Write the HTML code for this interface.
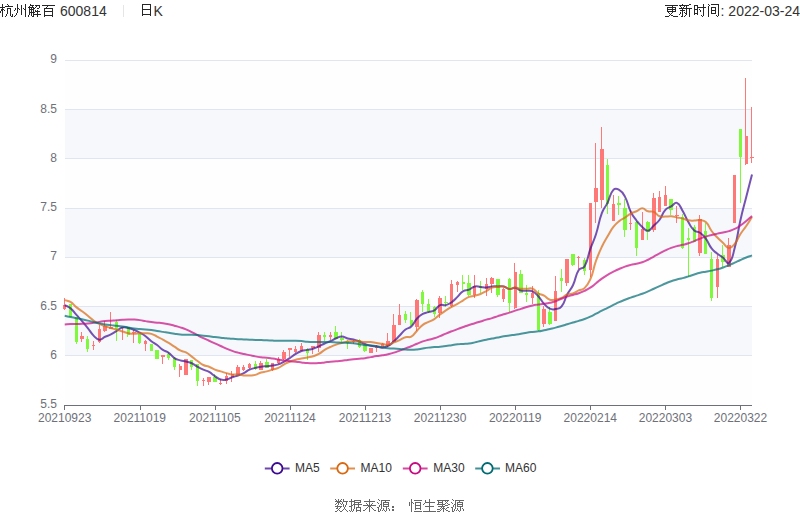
<!DOCTYPE html>
<html><head><meta charset="utf-8"><style>
html,body{margin:0;padding:0;background:#fff;}
body{width:800px;height:517px;overflow:hidden;position:relative;}
svg{position:absolute;left:0;top:0;font-family:"Liberation Sans",sans-serif;}
</style></head><body>
<svg width="800" height="517" viewBox="0 0 800 517">
<rect width="800" height="517" fill="#fff"/>
<rect x="65" y="356.00" width="687" height="49.00" fill="#fefefe"/>
<rect x="65" y="307.00" width="687" height="48.00" fill="#f6f8fc"/>
<rect x="65" y="258.00" width="687" height="48.00" fill="#fefefe"/>
<rect x="65" y="209.00" width="687" height="48.00" fill="#f6f8fc"/>
<rect x="65" y="159.00" width="687" height="49.00" fill="#fefefe"/>
<rect x="65" y="110.00" width="687" height="48.00" fill="#f6f8fc"/>
<rect x="65" y="61.00" width="687" height="48.00" fill="#fefefe"/>
<line x1="65" y1="355.5" x2="752" y2="355.5" stroke="#E0E6F1" stroke-width="1"/>
<line x1="65" y1="306.5" x2="752" y2="306.5" stroke="#E0E6F1" stroke-width="1"/>
<line x1="65" y1="257.5" x2="752" y2="257.5" stroke="#E0E6F1" stroke-width="1"/>
<line x1="65" y1="208.5" x2="752" y2="208.5" stroke="#E0E6F1" stroke-width="1"/>
<line x1="65" y1="158.5" x2="752" y2="158.5" stroke="#E0E6F1" stroke-width="1"/>
<line x1="65" y1="109.5" x2="752" y2="109.5" stroke="#E0E6F1" stroke-width="1"/>
<line x1="65" y1="60.5" x2="752" y2="60.5" stroke="#E0E6F1" stroke-width="1"/>
<line x1="64" y1="405.5" x2="752" y2="405.5" stroke="#6E7079" stroke-width="1"/>
<line x1="64.5" y1="405" x2="64.5" y2="410" stroke="#6E7079" stroke-width="1"/>
<line x1="140.5" y1="405" x2="140.5" y2="410" stroke="#6E7079" stroke-width="1"/>
<line x1="215.5" y1="405" x2="215.5" y2="410" stroke="#6E7079" stroke-width="1"/>
<line x1="290.5" y1="405" x2="290.5" y2="410" stroke="#6E7079" stroke-width="1"/>
<line x1="365.5" y1="405" x2="365.5" y2="410" stroke="#6E7079" stroke-width="1"/>
<line x1="440.5" y1="405" x2="440.5" y2="410" stroke="#6E7079" stroke-width="1"/>
<line x1="515.5" y1="405" x2="515.5" y2="410" stroke="#6E7079" stroke-width="1"/>
<line x1="590.5" y1="405" x2="590.5" y2="410" stroke="#6E7079" stroke-width="1"/>
<line x1="665.5" y1="405" x2="665.5" y2="410" stroke="#6E7079" stroke-width="1"/>
<line x1="740.5" y1="405" x2="740.5" y2="410" stroke="#6E7079" stroke-width="1"/>
<rect x="64.0" y="298" width="1" height="12" fill="#ff7878"/>
<rect x="63" y="305" width="3" height="4" fill="#ff7878"/>
<rect x="70.0" y="304" width="1" height="13" fill="#80f83c"/>
<rect x="69" y="304" width="3" height="13" fill="#80f83c"/>
<rect x="76.0" y="317" width="1" height="27" fill="#80f83c"/>
<rect x="75" y="317" width="3" height="25" fill="#80f83c"/>
<rect x="81.0" y="332" width="1" height="10" fill="#ff7878"/>
<rect x="80" y="336" width="4" height="3" fill="#ff7878"/>
<rect x="87.0" y="336" width="1" height="16" fill="#80f83c"/>
<rect x="86" y="339" width="3" height="10" fill="#80f83c"/>
<rect x="93.0" y="341" width="1" height="9" fill="#ff7878"/>
<rect x="92" y="345" width="3" height="1" fill="#ff7878"/>
<rect x="99.0" y="325" width="1" height="18" fill="#ff7878"/>
<rect x="98" y="329" width="3" height="13" fill="#ff7878"/>
<rect x="104.0" y="321" width="1" height="11" fill="#ff7878"/>
<rect x="103" y="326" width="4" height="5" fill="#ff7878"/>
<rect x="110.0" y="312" width="1" height="17" fill="#ff7878"/>
<rect x="109" y="327" width="4" height="2" fill="#ff7878"/>
<rect x="116.0" y="320" width="1" height="21" fill="#80f83c"/>
<rect x="115" y="322" width="3" height="7" fill="#80f83c"/>
<rect x="122.0" y="327" width="1" height="13" fill="#ff7878"/>
<rect x="121" y="327" width="3" height="1" fill="#ff7878"/>
<rect x="127.0" y="327" width="1" height="10" fill="#80f83c"/>
<rect x="127" y="327" width="3" height="8" fill="#80f83c"/>
<rect x="133.0" y="330" width="1" height="13" fill="#ff7878"/>
<rect x="132" y="332" width="4" height="1" fill="#ff7878"/>
<rect x="139.0" y="334" width="1" height="10" fill="#80f83c"/>
<rect x="138" y="334" width="3" height="9" fill="#80f83c"/>
<rect x="145.0" y="340" width="1" height="11" fill="#ff7878"/>
<rect x="144" y="341" width="3" height="3" fill="#ff7878"/>
<rect x="151.0" y="344" width="1" height="7" fill="#80f83c"/>
<rect x="150" y="344" width="3" height="7" fill="#80f83c"/>
<rect x="156.0" y="350" width="1" height="9" fill="#80f83c"/>
<rect x="155" y="350" width="4" height="9" fill="#80f83c"/>
<rect x="162.0" y="355" width="1" height="9" fill="#ff7878"/>
<rect x="161" y="355" width="4" height="2" fill="#ff7878"/>
<rect x="168.0" y="352" width="1" height="8" fill="#80f83c"/>
<rect x="167" y="354" width="3" height="4" fill="#80f83c"/>
<rect x="174.0" y="357" width="1" height="13" fill="#80f83c"/>
<rect x="173" y="358" width="3" height="9" fill="#80f83c"/>
<rect x="179.0" y="364" width="1" height="13" fill="#ff7878"/>
<rect x="179" y="366" width="3" height="4" fill="#ff7878"/>
<rect x="185.0" y="359" width="1" height="16" fill="#ff7878"/>
<rect x="184" y="359" width="4" height="16" fill="#ff7878"/>
<rect x="191.0" y="360" width="1" height="10" fill="#80f83c"/>
<rect x="190" y="360" width="3" height="7" fill="#80f83c"/>
<rect x="197.0" y="364" width="1" height="22" fill="#80f83c"/>
<rect x="196" y="364" width="3" height="17" fill="#80f83c"/>
<rect x="203.0" y="378" width="1" height="8" fill="#ff7878"/>
<rect x="202" y="380" width="3" height="1" fill="#ff7878"/>
<rect x="208.0" y="377" width="1" height="8" fill="#ff7878"/>
<rect x="207" y="377" width="4" height="5" fill="#ff7878"/>
<rect x="214.0" y="374" width="1" height="8" fill="#80f83c"/>
<rect x="213" y="377" width="4" height="5" fill="#80f83c"/>
<rect x="220.0" y="379" width="1" height="6" fill="#ff7878"/>
<rect x="219" y="383" width="3" height="1" fill="#ff7878"/>
<rect x="226.0" y="373" width="1" height="11" fill="#ff7878"/>
<rect x="225" y="376" width="3" height="5" fill="#ff7878"/>
<rect x="231.0" y="371" width="1" height="11" fill="#ff7878"/>
<rect x="231" y="374" width="3" height="3" fill="#ff7878"/>
<rect x="237.0" y="365" width="1" height="10" fill="#ff7878"/>
<rect x="236" y="367" width="4" height="8" fill="#ff7878"/>
<rect x="243.0" y="365" width="1" height="6" fill="#ff7878"/>
<rect x="242" y="367" width="3" height="3" fill="#ff7878"/>
<rect x="249.0" y="363" width="1" height="6" fill="#ff7878"/>
<rect x="248" y="364" width="3" height="4" fill="#ff7878"/>
<rect x="255.0" y="361" width="1" height="9" fill="#80f83c"/>
<rect x="254" y="364" width="3" height="5" fill="#80f83c"/>
<rect x="260.0" y="361" width="1" height="9" fill="#ff7878"/>
<rect x="259" y="363" width="4" height="7" fill="#ff7878"/>
<rect x="266.0" y="359" width="1" height="9" fill="#80f83c"/>
<rect x="265" y="362" width="4" height="6" fill="#80f83c"/>
<rect x="272.0" y="363" width="1" height="8" fill="#ff7878"/>
<rect x="271" y="363" width="3" height="7" fill="#ff7878"/>
<rect x="278.0" y="357" width="1" height="7" fill="#ff7878"/>
<rect x="277" y="359" width="3" height="4" fill="#ff7878"/>
<rect x="283.0" y="350" width="1" height="10" fill="#ff7878"/>
<rect x="282" y="352" width="4" height="7" fill="#ff7878"/>
<rect x="289.0" y="348" width="1" height="9" fill="#ff7878"/>
<rect x="288" y="348" width="4" height="2" fill="#ff7878"/>
<rect x="295.0" y="346" width="1" height="7" fill="#ff7878"/>
<rect x="294" y="349" width="3" height="3" fill="#ff7878"/>
<rect x="301.0" y="343" width="1" height="8" fill="#ff7878"/>
<rect x="300" y="346" width="3" height="5" fill="#ff7878"/>
<rect x="307.0" y="348" width="1" height="12" fill="#80f83c"/>
<rect x="306" y="349" width="3" height="4" fill="#80f83c"/>
<rect x="312.0" y="346" width="1" height="8" fill="#ff7878"/>
<rect x="311" y="346" width="4" height="2" fill="#ff7878"/>
<rect x="318.0" y="332" width="1" height="20" fill="#ff7878"/>
<rect x="317" y="335" width="4" height="13" fill="#ff7878"/>
<rect x="324.0" y="332" width="1" height="9" fill="#80f83c"/>
<rect x="323" y="335" width="3" height="2" fill="#80f83c"/>
<rect x="330.0" y="332" width="1" height="8" fill="#ff7878"/>
<rect x="329" y="335" width="3" height="2" fill="#ff7878"/>
<rect x="335.0" y="326" width="1" height="13" fill="#80f83c"/>
<rect x="334" y="332" width="4" height="7" fill="#80f83c"/>
<rect x="341.0" y="332" width="1" height="10" fill="#80f83c"/>
<rect x="340" y="338" width="4" height="2" fill="#80f83c"/>
<rect x="347.0" y="340" width="1" height="9" fill="#80f83c"/>
<rect x="346" y="341" width="3" height="2" fill="#80f83c"/>
<rect x="353.0" y="340" width="1" height="4" fill="#ff7878"/>
<rect x="352" y="341" width="3" height="1" fill="#ff7878"/>
<rect x="359.0" y="339" width="1" height="9" fill="#80f83c"/>
<rect x="358" y="340" width="3" height="7" fill="#80f83c"/>
<rect x="364.0" y="345" width="1" height="7" fill="#80f83c"/>
<rect x="363" y="345" width="4" height="6" fill="#80f83c"/>
<rect x="370.0" y="348" width="1" height="5" fill="#ff7878"/>
<rect x="369" y="348" width="4" height="5" fill="#ff7878"/>
<rect x="376.0" y="345" width="1" height="7" fill="#ff7878"/>
<rect x="375" y="347" width="3" height="1" fill="#ff7878"/>
<rect x="382.0" y="343" width="1" height="4" fill="#ff7878"/>
<rect x="381" y="344" width="3" height="3" fill="#ff7878"/>
<rect x="387.0" y="333" width="1" height="14" fill="#ff7878"/>
<rect x="386" y="341" width="4" height="5" fill="#ff7878"/>
<rect x="393.0" y="314" width="1" height="28" fill="#ff7878"/>
<rect x="392" y="325" width="4" height="17" fill="#ff7878"/>
<rect x="399.0" y="304" width="1" height="21" fill="#ff7878"/>
<rect x="398" y="315" width="3" height="10" fill="#ff7878"/>
<rect x="405.0" y="311" width="1" height="12" fill="#80f83c"/>
<rect x="404" y="314" width="3" height="6" fill="#80f83c"/>
<rect x="410.0" y="312" width="1" height="14" fill="#80f83c"/>
<rect x="410" y="320" width="3" height="5" fill="#80f83c"/>
<rect x="416.0" y="299" width="1" height="32" fill="#ff7878"/>
<rect x="415" y="300" width="4" height="27" fill="#ff7878"/>
<rect x="422.0" y="290" width="1" height="22" fill="#80f83c"/>
<rect x="421" y="292" width="3" height="12" fill="#80f83c"/>
<rect x="428.0" y="299" width="1" height="14" fill="#80f83c"/>
<rect x="427" y="304" width="3" height="8" fill="#80f83c"/>
<rect x="434.0" y="306" width="1" height="11" fill="#80f83c"/>
<rect x="433" y="307" width="3" height="7" fill="#80f83c"/>
<rect x="439.0" y="296" width="1" height="22" fill="#ff7878"/>
<rect x="438" y="298" width="4" height="15" fill="#ff7878"/>
<rect x="445.0" y="296" width="1" height="11" fill="#80f83c"/>
<rect x="444" y="302" width="4" height="1" fill="#80f83c"/>
<rect x="451.0" y="280" width="1" height="27" fill="#ff7878"/>
<rect x="450" y="284" width="3" height="22" fill="#ff7878"/>
<rect x="457.0" y="281" width="1" height="11" fill="#ff7878"/>
<rect x="456" y="282" width="3" height="3" fill="#ff7878"/>
<rect x="462.0" y="275" width="1" height="15" fill="#80f83c"/>
<rect x="462" y="282" width="3" height="2" fill="#80f83c"/>
<rect x="468.0" y="275" width="1" height="21" fill="#80f83c"/>
<rect x="467" y="283" width="4" height="12" fill="#80f83c"/>
<rect x="474.0" y="275" width="1" height="23" fill="#ff7878"/>
<rect x="473" y="286" width="3" height="9" fill="#ff7878"/>
<rect x="480.0" y="281" width="1" height="12" fill="#80f83c"/>
<rect x="479" y="286" width="3" height="2" fill="#80f83c"/>
<rect x="486.0" y="278" width="1" height="18" fill="#ff7878"/>
<rect x="485" y="284" width="3" height="5" fill="#ff7878"/>
<rect x="491.0" y="277" width="1" height="16" fill="#ff7878"/>
<rect x="490" y="278" width="4" height="6" fill="#ff7878"/>
<rect x="497.0" y="279" width="1" height="18" fill="#80f83c"/>
<rect x="496" y="279" width="4" height="16" fill="#80f83c"/>
<rect x="503.0" y="288" width="1" height="14" fill="#ff7878"/>
<rect x="502" y="289" width="3" height="10" fill="#ff7878"/>
<rect x="509.0" y="278" width="1" height="34" fill="#80f83c"/>
<rect x="508" y="279" width="3" height="24" fill="#80f83c"/>
<rect x="514.0" y="263" width="1" height="46" fill="#ff7878"/>
<rect x="514" y="272" width="3" height="36" fill="#ff7878"/>
<rect x="520.0" y="270" width="1" height="23" fill="#80f83c"/>
<rect x="519" y="274" width="4" height="19" fill="#80f83c"/>
<rect x="526.0" y="285" width="1" height="17" fill="#80f83c"/>
<rect x="525" y="293" width="3" height="2" fill="#80f83c"/>
<rect x="532.0" y="286" width="1" height="18" fill="#ff7878"/>
<rect x="531" y="293" width="3" height="5" fill="#ff7878"/>
<rect x="538.0" y="290" width="1" height="41" fill="#80f83c"/>
<rect x="537" y="293" width="3" height="37" fill="#80f83c"/>
<rect x="543.0" y="306" width="1" height="21" fill="#ff7878"/>
<rect x="542" y="309" width="4" height="15" fill="#ff7878"/>
<rect x="549.0" y="307" width="1" height="18" fill="#80f83c"/>
<rect x="548" y="312" width="4" height="12" fill="#80f83c"/>
<rect x="555.0" y="276" width="1" height="45" fill="#ff7878"/>
<rect x="554" y="291" width="3" height="30" fill="#ff7878"/>
<rect x="561.0" y="269" width="1" height="23" fill="#80f83c"/>
<rect x="560" y="278" width="3" height="3" fill="#80f83c"/>
<rect x="566.0" y="259" width="1" height="27" fill="#ff7878"/>
<rect x="565" y="259" width="4" height="24" fill="#ff7878"/>
<rect x="572.0" y="254" width="1" height="12" fill="#80f83c"/>
<rect x="571" y="254" width="4" height="11" fill="#80f83c"/>
<rect x="578.0" y="256" width="1" height="13" fill="#ff7878"/>
<rect x="577" y="257" width="3" height="1" fill="#ff7878"/>
<rect x="584.0" y="258" width="1" height="17" fill="#80f83c"/>
<rect x="583" y="260" width="3" height="11" fill="#80f83c"/>
<rect x="590.0" y="203" width="1" height="74" fill="#ff7878"/>
<rect x="589" y="203" width="3" height="67" fill="#ff7878"/>
<rect x="595.0" y="143" width="1" height="80" fill="#ff7878"/>
<rect x="594" y="188" width="4" height="14" fill="#ff7878"/>
<rect x="601.0" y="127" width="1" height="81" fill="#ff7878"/>
<rect x="600" y="149" width="4" height="51" fill="#ff7878"/>
<rect x="607.0" y="159" width="1" height="55" fill="#80f83c"/>
<rect x="606" y="165" width="3" height="39" fill="#80f83c"/>
<rect x="613.0" y="195" width="1" height="26" fill="#ff7878"/>
<rect x="612" y="204" width="3" height="17" fill="#ff7878"/>
<rect x="618.0" y="196" width="1" height="19" fill="#80f83c"/>
<rect x="617" y="203" width="4" height="2" fill="#80f83c"/>
<rect x="624.0" y="199" width="1" height="38" fill="#80f83c"/>
<rect x="623" y="208" width="4" height="22" fill="#80f83c"/>
<rect x="630.0" y="210" width="1" height="20" fill="#ff7878"/>
<rect x="629" y="223" width="3" height="1" fill="#ff7878"/>
<rect x="636.0" y="221" width="1" height="35" fill="#80f83c"/>
<rect x="635" y="222" width="3" height="26" fill="#80f83c"/>
<rect x="642.0" y="212" width="1" height="28" fill="#ff7878"/>
<rect x="641" y="229" width="3" height="11" fill="#ff7878"/>
<rect x="647.0" y="221" width="1" height="19" fill="#80f83c"/>
<rect x="646" y="222" width="4" height="10" fill="#80f83c"/>
<rect x="653.0" y="193" width="1" height="39" fill="#ff7878"/>
<rect x="652" y="198" width="4" height="32" fill="#ff7878"/>
<rect x="659.0" y="191" width="1" height="21" fill="#ff7878"/>
<rect x="658" y="197" width="3" height="15" fill="#ff7878"/>
<rect x="665.0" y="186" width="1" height="20" fill="#ff7878"/>
<rect x="664" y="195" width="3" height="11" fill="#ff7878"/>
<rect x="670.0" y="199" width="1" height="16" fill="#80f83c"/>
<rect x="669" y="199" width="4" height="11" fill="#80f83c"/>
<rect x="676.0" y="206" width="1" height="17" fill="#ff7878"/>
<rect x="675" y="215" width="4" height="1" fill="#ff7878"/>
<rect x="682.0" y="214" width="1" height="35" fill="#80f83c"/>
<rect x="681" y="217" width="3" height="31" fill="#80f83c"/>
<rect x="688.0" y="228" width="1" height="49" fill="#80f83c"/>
<rect x="687" y="238" width="3" height="2" fill="#80f83c"/>
<rect x="694.0" y="225" width="1" height="17" fill="#80f83c"/>
<rect x="693" y="227" width="3" height="15" fill="#80f83c"/>
<rect x="699.0" y="215" width="1" height="41" fill="#ff7878"/>
<rect x="698" y="219" width="4" height="34" fill="#ff7878"/>
<rect x="705.0" y="223" width="1" height="31" fill="#80f83c"/>
<rect x="704" y="231" width="3" height="23" fill="#80f83c"/>
<rect x="711.0" y="252" width="1" height="49" fill="#80f83c"/>
<rect x="710" y="259" width="3" height="39" fill="#80f83c"/>
<rect x="717.0" y="255" width="1" height="43" fill="#ff7878"/>
<rect x="716" y="259" width="3" height="28" fill="#ff7878"/>
<rect x="722.0" y="245" width="1" height="22" fill="#80f83c"/>
<rect x="721" y="255" width="4" height="7" fill="#80f83c"/>
<rect x="728.0" y="238" width="1" height="29" fill="#ff7878"/>
<rect x="727" y="245" width="4" height="22" fill="#ff7878"/>
<rect x="734.0" y="175" width="1" height="48" fill="#ff7878"/>
<rect x="733" y="175" width="3" height="48" fill="#ff7878"/>
<rect x="740.0" y="129" width="1" height="74" fill="#80f83c"/>
<rect x="739" y="129" width="3" height="28" fill="#80f83c"/>
<rect x="745.0" y="78" width="1" height="87" fill="#ff7878"/>
<rect x="745" y="136" width="3" height="28" fill="#ff7878"/>
<rect x="751.0" y="107" width="1" height="56" fill="#ff7878"/>
<rect x="750" y="157" width="4" height="1" fill="#ff7878"/>
<path d="M64.70,305.02 C67.59,306.65 67.96,306.18 70.48,308.27 C73.74,311.00 73.36,311.47 76.25,314.67 C79.14,317.87 79.21,317.80 82.03,321.06 C84.99,324.49 84.99,324.49 87.80,328.04 C90.76,331.76 90.26,332.26 93.58,335.59 C96.04,338.07 96.34,339.36 99.35,339.66 C102.11,339.94 102.19,338.09 105.13,336.76 C107.96,335.47 108.13,335.83 110.91,334.43 C113.91,332.92 113.79,332.69 116.68,330.94 C119.57,329.20 119.35,328.24 122.46,327.46 C125.13,326.78 125.40,327.47 128.23,328.04 C131.18,328.63 131.22,328.66 134.01,329.78 C137.00,330.98 136.96,331.12 139.78,332.69 C142.73,334.32 142.85,334.18 145.56,336.18 C148.63,338.43 148.31,338.86 151.34,341.18 C154.08,343.28 154.35,342.93 157.11,345.02 C160.12,347.29 159.77,347.80 162.89,349.90 C165.55,351.69 166.04,350.96 168.66,352.81 C171.82,355.03 171.23,355.94 174.44,358.04 C177.00,359.72 177.25,359.47 180.21,360.36 C183.02,361.21 183.14,360.81 185.99,361.52 C188.91,362.26 189.04,362.03 191.77,363.27 C194.81,364.65 194.59,365.12 197.54,366.76 C200.37,368.32 200.37,368.33 203.32,369.66 C206.15,370.95 206.39,370.49 209.09,371.99 C212.16,373.69 211.91,374.12 214.87,376.06 C217.69,377.90 217.53,378.60 220.64,379.54 C223.31,380.35 223.64,380.10 226.42,379.54 C229.42,378.94 229.26,378.25 232.20,377.22 C235.04,376.22 235.13,376.48 237.97,375.48 C240.91,374.44 240.97,374.53 243.75,373.13 C246.75,371.62 246.47,371.02 249.52,369.64 C252.25,368.41 252.38,368.64 255.30,367.90 C258.15,367.18 258.16,367.18 261.07,366.74 C263.94,366.30 263.96,366.45 266.85,366.16 C269.74,365.87 269.76,366.01 272.63,365.57 C275.53,365.14 275.65,365.38 278.40,364.41 C281.42,363.35 281.35,363.07 284.18,361.51 C287.13,359.87 287.13,359.86 289.95,358.01 C292.91,356.08 292.71,355.76 295.73,353.94 C298.49,352.28 298.48,352.10 301.50,351.04 C304.26,350.07 304.39,350.46 307.28,349.88 C310.17,349.29 310.25,349.56 313.06,348.71 C316.02,347.82 316.00,347.67 318.83,346.39 C321.77,345.06 321.66,344.81 324.61,343.48 C327.44,342.20 327.55,342.44 330.38,341.16 C333.32,339.82 333.17,339.45 336.16,338.25 C338.95,337.13 339.06,336.45 341.93,336.51 C344.84,336.56 344.76,337.74 347.71,338.48 C350.54,339.19 350.67,338.68 353.48,339.41 C356.44,340.19 356.41,340.36 359.26,341.50 C362.19,342.68 362.08,342.96 365.04,344.06 C367.86,345.11 367.87,345.18 370.81,345.81 C373.65,346.41 373.72,346.04 376.59,346.51 C379.49,346.97 379.51,347.81 382.36,347.67 C385.29,347.52 385.55,347.36 388.14,345.93 C391.32,344.16 391.17,343.76 393.91,341.27 C396.95,338.53 396.82,338.39 399.69,335.46 C402.60,332.50 402.23,332.01 405.47,329.50 C408.00,327.53 408.95,328.69 411.24,326.50 C414.72,323.19 413.72,322.11 417.02,318.50 C419.50,315.78 419.61,315.60 422.79,313.83 C425.38,312.39 425.68,312.96 428.57,312.09 C431.46,311.22 431.82,311.87 434.34,310.34 C437.60,308.38 436.80,306.61 440.12,305.11 C442.58,304.00 443.17,305.80 445.90,305.11 C448.95,304.34 449.07,304.07 451.67,302.21 C454.84,299.95 454.62,299.60 457.45,296.88 C460.40,294.03 459.88,293.15 463.22,291.06 C465.65,289.55 466.27,290.77 469.00,289.67 C472.04,288.44 471.70,287.13 474.77,286.41 C477.47,285.79 477.66,286.70 480.55,286.99 C483.44,287.28 483.46,287.72 486.33,287.57 C489.24,287.43 489.19,286.71 492.10,286.41 C494.96,286.12 494.99,286.41 497.88,286.41 C500.77,286.41 500.89,285.80 503.65,286.41 C506.67,287.08 506.44,288.61 509.43,288.97 C512.22,289.31 512.43,287.44 515.20,287.81 C518.20,288.20 517.95,289.69 520.98,290.48 C523.73,291.20 523.87,290.63 526.76,290.83 C529.65,291.03 530.04,290.12 532.53,291.30 C535.81,292.84 535.74,293.48 538.31,296.27 C541.51,299.75 540.87,300.36 544.08,303.82 C546.64,306.58 546.59,307.23 549.86,308.71 C552.36,309.84 552.85,309.53 555.63,309.06 C558.63,308.54 559.59,309.02 561.41,306.73 C565.36,301.76 564.00,300.46 567.19,294.52 C569.77,289.71 570.64,290.16 572.96,285.23 C576.42,277.89 574.65,276.61 578.74,269.99 C580.43,267.25 582.96,269.31 584.51,266.50 C588.74,258.85 587.22,257.72 590.29,249.06 C592.99,241.44 593.59,241.64 596.06,233.95 C599.36,223.71 598.14,223.25 601.84,213.20 C603.91,207.57 604.95,208.01 607.62,202.60 C610.72,196.31 609.30,194.33 613.39,189.80 C615.07,187.93 616.90,188.46 619.17,189.80 C622.67,191.86 622.89,192.71 624.94,196.60 C628.66,203.66 627.22,204.46 630.72,211.70 C633.00,216.41 633.33,216.31 636.49,220.50 C639.11,223.96 639.04,224.15 642.27,227.00 C644.82,229.25 645.33,231.04 648.05,230.70 C651.11,230.32 651.02,228.22 653.82,225.57 C656.79,222.75 657.19,223.03 659.60,219.76 C662.96,215.18 661.74,214.08 665.37,209.88 C667.51,207.40 668.26,208.13 671.15,206.39 C674.04,204.64 674.59,201.96 676.92,202.90 C680.37,204.29 680.16,206.76 682.70,211.04 C685.93,216.47 685.24,216.89 688.48,222.32 C691.02,226.60 690.69,227.24 694.25,230.46 C696.47,232.47 697.53,231.03 700.03,232.79 C703.31,235.10 703.39,235.33 705.80,238.60 C709.17,243.17 708.14,243.99 711.58,248.48 C713.92,251.54 714.32,251.27 717.35,253.71 C720.10,255.92 720.37,255.59 723.13,257.78 C726.15,260.18 727.02,264.49 728.91,262.90 C732.80,259.60 732.61,255.69 734.68,248.00 C738.39,234.24 737.30,233.94 740.46,220.00 C743.08,208.44 743.31,208.49 746.23,197.00 C749.08,185.79 749.12,185.80 752.01,174.60" fill="none" stroke="#3c0a91" stroke-width="2" stroke-opacity="0.7" stroke-linejoin="round"/>
<path d="M64.70,300.14 C67.59,301.01 67.96,300.36 70.48,301.88 C73.73,303.85 73.22,304.67 76.25,307.11 C79.00,309.32 79.21,309.05 82.03,311.18 C84.98,313.41 84.91,313.51 87.80,315.83 C90.69,318.16 90.55,318.35 93.58,320.48 C96.33,322.42 96.35,322.46 99.35,323.97 C102.13,325.36 102.20,325.26 105.13,326.29 C107.97,327.29 108.02,327.17 110.91,328.04 C113.79,328.91 113.79,328.91 116.68,329.78 C119.57,330.65 119.57,330.65 122.46,331.52 C125.34,332.40 125.29,332.68 128.23,333.27 C131.06,333.84 131.12,333.85 134.01,333.85 C136.90,333.85 136.89,333.41 139.78,333.27 C142.66,333.12 142.68,333.12 145.56,333.27 C148.45,333.41 148.58,333.07 151.34,333.85 C154.36,334.70 154.27,335.10 157.11,336.53 C160.04,338.01 160.01,338.08 162.89,339.67 C165.79,341.28 165.83,341.21 168.66,342.93 C171.60,344.70 171.56,344.76 174.44,346.64 C177.34,348.54 177.14,348.94 180.21,350.48 C182.92,351.84 183.33,351.04 185.99,352.46 C189.10,354.12 188.89,354.53 191.77,356.64 C194.67,358.77 194.63,358.83 197.54,360.94 C200.40,363.02 200.20,363.44 203.32,365.01 C205.98,366.35 206.30,365.63 209.09,366.76 C212.08,367.96 211.88,368.46 214.87,369.66 C217.66,370.78 217.76,370.53 220.64,371.41 C223.53,372.28 223.51,372.36 226.42,373.15 C229.29,373.93 229.27,374.25 232.20,374.55 C235.04,374.83 235.11,374.09 237.97,374.31 C240.89,374.54 240.83,375.17 243.75,375.46 C246.61,375.74 246.64,375.60 249.52,375.46 C252.42,375.31 252.51,375.58 255.30,374.88 C258.29,374.12 258.11,373.45 261.07,372.55 C263.88,371.70 264.00,372.11 266.85,371.39 C269.77,370.65 269.74,370.52 272.63,369.64 C275.51,368.77 275.67,369.13 278.40,367.90 C281.45,366.52 281.23,366.05 284.18,364.41 C287.00,362.85 286.96,362.70 289.95,361.50 C292.74,360.38 292.81,360.49 295.73,359.76 C298.58,359.04 298.62,359.18 301.50,358.59 C304.39,358.01 304.39,358.01 307.28,357.43 C310.17,356.85 310.25,357.12 313.06,356.27 C316.02,355.37 316.13,355.44 318.83,353.94 C321.90,352.24 321.59,351.70 324.61,349.88 C327.37,348.21 327.44,348.30 330.38,346.97 C333.22,345.69 333.22,345.68 336.16,344.64 C339.00,343.64 339.02,343.69 341.93,342.90 C344.80,342.12 344.78,341.95 347.71,341.50 C350.56,341.07 350.60,341.16 353.48,341.16 C356.37,341.16 356.37,341.30 359.26,341.50 C362.15,341.71 362.14,341.85 365.04,341.97 C367.92,342.09 367.95,341.71 370.81,341.97 C373.72,342.23 373.69,342.55 376.59,343.02 C379.47,343.48 379.48,343.40 382.36,343.83 C385.26,344.27 385.34,345.10 388.14,344.76 C391.12,344.40 391.03,343.60 393.91,342.44 C396.80,341.28 396.86,341.40 399.69,340.11 C402.63,338.78 402.42,338.13 405.47,337.21 C408.20,336.38 408.86,337.97 411.24,336.62 C414.64,334.71 414.11,333.64 417.02,330.69 C419.89,327.77 419.57,327.31 422.79,324.88 C425.34,322.95 425.68,323.42 428.57,321.97 C431.46,320.52 431.65,320.82 434.34,319.06 C437.43,317.04 437.16,316.64 440.12,314.41 C442.94,312.29 442.94,312.28 445.90,310.34 C448.72,308.50 448.73,308.51 451.67,306.86 C454.51,305.26 454.61,305.44 457.45,303.85 C460.39,302.20 460.34,302.11 463.22,300.36 C466.11,298.62 465.92,298.12 469.00,296.88 C471.69,295.79 471.92,296.43 474.77,295.71 C477.70,294.98 477.76,295.09 480.55,293.97 C483.54,292.77 483.50,292.63 486.33,291.06 C489.28,289.43 489.00,288.67 492.10,287.57 C494.77,286.63 494.99,287.28 497.88,286.99 C500.77,286.70 500.89,285.94 503.65,286.41 C506.66,286.93 506.45,288.67 509.43,288.97 C512.23,289.25 512.30,287.63 515.20,287.57 C518.08,287.52 518.06,288.44 520.98,288.74 C523.84,289.03 523.87,288.74 526.76,288.74 C529.64,288.74 530.00,287.72 532.53,288.74 C535.78,290.04 535.17,291.48 538.31,293.36 C540.95,294.95 541.38,294.19 544.08,295.69 C547.15,297.39 546.68,298.73 549.86,299.76 C552.46,300.59 552.78,299.84 555.63,299.41 C558.56,298.97 558.71,299.16 561.41,298.01 C564.48,296.71 564.10,295.77 567.19,294.52 C569.88,293.44 570.21,294.33 572.96,293.36 C575.98,292.30 575.79,291.79 578.74,290.46 C581.57,289.17 582.36,290.19 584.51,288.13 C588.13,284.67 588.28,284.19 590.29,279.41 C594.05,270.47 592.80,269.92 596.06,260.69 C598.58,253.58 598.62,253.55 601.84,246.74 C604.39,241.34 604.60,241.43 607.62,236.28 C610.38,231.55 610.09,231.30 613.39,226.97 C615.87,223.74 616.00,223.70 619.17,221.15 C621.77,219.05 622.12,219.51 624.94,217.66 C627.90,215.73 627.65,215.29 630.72,213.59 C633.42,212.10 633.66,212.55 636.49,211.27 C639.44,209.94 639.38,208.36 642.27,208.36 C645.16,208.36 645.00,210.35 648.05,211.27 C650.78,212.09 651.26,210.74 653.82,211.85 C657.03,213.24 656.38,214.94 659.60,216.27 C662.16,217.33 662.48,216.62 665.37,216.62 C668.26,216.62 668.29,216.07 671.15,216.27 C674.06,216.47 674.04,216.85 676.92,217.43 C679.81,218.01 679.85,217.88 682.70,218.59 C685.62,219.33 685.53,219.83 688.48,220.34 C691.30,220.82 691.37,220.65 694.25,220.57 C697.14,220.49 697.21,219.65 700.03,220.00 C702.99,220.37 703.70,220.00 705.80,222.00 C709.48,225.50 708.39,226.73 711.58,231.00 C714.17,234.48 714.34,234.37 717.35,237.50 C720.12,240.37 720.18,240.32 723.13,243.00 C725.96,245.57 725.90,247.74 728.91,248.00 C731.67,248.24 732.50,246.65 734.68,244.00 C738.27,239.65 737.34,238.85 740.46,234.00 C743.12,229.85 743.46,230.08 746.23,226.00 C749.24,221.58 749.12,221.50 752.01,217.00" fill="none" stroke="#d9680f" stroke-width="2" stroke-opacity="0.7" stroke-linejoin="round"/>
<path d="M64.70,324.50 C67.59,324.27 67.58,324.20 70.48,324.05 C73.36,323.90 73.36,323.95 76.25,323.90 C79.14,323.85 79.14,323.93 82.03,323.85 C84.92,323.77 84.92,323.82 87.80,323.57 C90.70,323.33 90.70,323.30 93.58,322.88 C96.48,322.45 96.46,322.33 99.35,321.88 C102.24,321.42 102.23,321.36 105.13,321.05 C108.01,320.74 108.02,320.84 110.91,320.65 C113.79,320.46 113.80,320.50 116.68,320.27 C119.57,320.05 119.56,319.94 122.46,319.75 C125.34,319.56 125.34,319.54 128.23,319.50 C131.12,319.46 131.13,319.44 134.01,319.60 C136.90,319.76 136.91,319.75 139.78,320.12 C142.69,320.51 142.67,320.64 145.56,321.12 C148.44,321.61 148.44,321.67 151.34,322.05 C154.21,322.43 154.22,322.34 157.11,322.64 C160.00,322.94 160.01,322.85 162.89,323.25 C165.79,323.66 165.80,323.66 168.66,324.27 C171.57,324.88 171.56,324.92 174.44,325.69 C177.34,326.46 177.35,326.43 180.21,327.35 C183.13,328.28 183.16,328.22 185.99,329.38 C188.94,330.59 188.92,330.65 191.77,332.08 C194.70,333.57 194.63,333.70 197.54,335.22 C200.41,336.72 200.40,336.74 203.32,338.13 C206.18,339.50 206.20,339.44 209.09,340.75 C211.98,342.05 211.98,342.05 214.87,343.36 C217.76,344.67 217.76,344.67 220.64,345.98 C223.53,347.28 223.50,347.36 226.42,348.59 C229.27,349.79 229.27,349.81 232.20,350.83 C235.05,351.83 235.06,351.82 237.97,352.63 C240.83,353.42 240.84,353.39 243.75,354.01 C246.62,354.63 246.64,354.53 249.52,355.11 C252.42,355.70 252.39,355.83 255.30,356.36 C258.17,356.89 258.18,356.88 261.07,357.23 C263.95,357.59 263.97,357.45 266.85,357.79 C269.74,358.13 269.74,358.17 272.63,358.60 C275.52,359.03 275.51,359.04 278.40,359.50 C281.29,359.96 281.28,360.00 284.18,360.43 C287.06,360.86 287.06,360.88 289.95,361.21 C292.83,361.54 292.84,361.44 295.73,361.73 C298.62,362.03 298.62,362.07 301.50,362.40 C304.39,362.73 304.38,362.83 307.28,363.04 C310.16,363.25 310.17,363.24 313.06,363.24 C315.94,363.24 315.95,363.25 318.83,363.04 C321.73,362.83 321.72,362.73 324.61,362.40 C327.50,362.07 327.49,361.99 330.38,361.73 C333.26,361.47 333.27,361.59 336.16,361.35 C339.05,361.11 339.05,361.14 341.93,360.77 C344.83,360.41 344.82,360.30 347.71,359.90 C350.59,359.50 350.59,359.47 353.48,359.18 C356.37,358.89 356.38,358.99 359.26,358.74 C362.15,358.48 362.16,358.56 365.04,358.16 C367.94,357.75 367.92,357.63 370.81,357.11 C373.70,356.60 373.69,356.57 376.59,356.10 C379.47,355.63 379.48,355.70 382.36,355.23 C385.26,354.74 385.28,354.81 388.14,354.18 C391.05,353.53 391.07,353.56 393.91,352.67 C396.84,351.75 396.81,351.64 399.69,350.57 C402.59,349.50 402.58,349.49 405.47,348.40 C408.35,347.31 408.38,347.37 411.24,346.22 C414.16,345.04 414.12,344.95 417.02,343.75 C419.89,342.55 419.85,342.43 422.79,341.42 C425.63,340.45 425.67,340.58 428.57,339.79 C431.45,339.01 431.51,339.19 434.34,338.27 C437.28,337.33 437.26,337.23 440.12,336.06 C443.03,334.88 442.99,334.79 445.90,333.59 C448.77,332.41 448.78,332.43 451.67,331.30 C454.55,330.18 454.55,330.17 457.45,329.09 C460.33,328.02 460.33,328.03 463.22,327.00 C466.10,325.98 466.09,325.94 469.00,324.99 C471.87,324.06 471.89,324.14 474.77,323.25 C477.67,322.37 477.66,322.36 480.55,321.45 C483.44,320.55 483.42,320.49 486.33,319.65 C489.20,318.82 489.24,318.98 492.10,318.11 C495.02,317.22 494.98,317.10 497.88,316.13 C500.76,315.18 500.75,315.15 503.65,314.27 C506.53,313.39 506.56,313.51 509.43,312.61 C512.34,311.70 512.30,311.59 515.20,310.64 C518.08,309.70 518.10,309.75 520.98,308.84 C523.87,307.92 523.85,307.84 526.76,306.98 C529.62,306.12 529.61,306.01 532.53,305.40 C535.38,304.82 535.42,304.98 538.31,304.59 C541.19,304.20 541.20,304.27 544.08,303.83 C546.98,303.40 547.01,303.49 549.86,302.85 C552.78,302.18 552.81,302.21 555.63,301.22 C558.59,300.17 558.50,299.94 561.41,298.77 C564.28,297.61 564.25,297.53 567.19,296.56 C570.03,295.62 570.08,295.79 572.96,294.96 C575.86,294.12 575.89,294.22 578.74,293.22 C581.67,292.18 581.71,292.23 584.51,290.89 C587.49,289.47 587.54,289.50 590.29,287.70 C593.31,285.71 593.22,285.55 596.06,283.30 C598.99,281.00 598.84,280.80 601.84,278.59 C604.62,276.54 604.64,276.55 607.62,274.78 C610.42,273.12 610.47,273.20 613.39,271.73 C616.25,270.29 616.24,270.26 619.17,268.97 C622.01,267.72 622.01,267.68 624.94,266.65 C627.79,265.64 627.80,265.65 630.72,264.90 C633.58,264.17 633.62,264.34 636.49,263.68 C639.39,263.02 639.47,263.22 642.27,262.26 C645.24,261.24 645.22,261.13 648.05,259.73 C651.00,258.27 650.92,258.11 653.82,256.53 C656.70,254.96 656.69,254.95 659.60,253.42 C662.47,251.91 662.45,251.86 665.37,250.46 C668.22,249.10 668.20,249.01 671.15,247.90 C673.97,246.84 674.00,246.88 676.92,246.10 C679.78,245.35 679.83,245.53 682.70,244.83 C685.60,244.13 685.64,244.22 688.48,243.30 C691.41,242.35 691.38,242.24 694.25,241.10 C697.16,239.94 697.11,239.82 700.03,238.70 C702.89,237.60 702.89,237.58 705.80,236.65 C708.66,235.73 708.67,235.76 711.58,235.00 C714.45,234.25 714.46,234.27 717.35,233.62 C720.23,232.98 720.25,233.05 723.13,232.43 C726.02,231.79 726.07,231.95 728.91,231.10 C731.85,230.21 731.93,230.30 734.68,228.95 C737.70,227.47 737.69,227.36 740.46,225.43 C743.46,223.33 743.39,223.22 746.23,220.90 C749.17,218.51 749.12,218.45 752.01,216.00" fill="none" stroke="#c80a82" stroke-width="2" stroke-opacity="0.7" stroke-linejoin="round"/>
<path d="M64.70,315.83 C67.59,316.41 67.59,316.41 70.48,316.99 C73.36,317.57 73.36,317.57 76.25,318.16 C79.14,318.74 79.15,318.70 82.03,319.32 C84.92,319.94 84.92,319.94 87.80,320.63 C90.70,321.32 90.68,321.39 93.58,322.08 C96.46,322.77 96.45,322.80 99.35,323.39 C102.23,323.97 102.23,323.97 105.13,324.40 C108.01,324.84 108.01,324.80 110.91,325.13 C113.79,325.46 113.80,325.39 116.68,325.71 C119.57,326.04 119.58,326.00 122.46,326.44 C125.36,326.88 125.34,326.95 128.23,327.46 C131.12,327.96 131.11,328.07 134.01,328.47 C136.88,328.87 136.89,328.83 139.78,329.05 C142.67,329.28 142.68,329.14 145.56,329.38 C148.45,329.62 148.46,329.62 151.34,330.02 C154.23,330.42 154.22,330.51 157.11,330.98 C160.00,331.45 160.00,331.44 162.89,331.88 C165.77,332.32 165.78,332.27 168.66,332.72 C171.55,333.18 171.55,333.24 174.44,333.68 C177.32,334.13 177.31,334.23 180.21,334.50 C183.09,334.76 183.10,334.67 185.99,334.73 C188.88,334.79 188.88,334.64 191.77,334.73 C194.66,334.82 194.66,334.85 197.54,335.08 C200.43,335.31 200.43,335.35 203.32,335.66 C206.21,335.96 206.21,335.96 209.09,336.30 C211.98,336.64 211.98,336.69 214.87,337.03 C217.75,337.36 217.75,337.35 220.64,337.64 C223.53,337.92 223.53,337.88 226.42,338.16 C229.31,338.43 229.30,338.49 232.20,338.74 C235.08,338.99 235.08,339.00 237.97,339.18 C240.86,339.35 240.86,339.31 243.75,339.43 C246.63,339.56 246.63,339.55 249.52,339.66 C252.41,339.78 252.41,339.78 255.30,339.89 C258.19,340.01 258.19,340.01 261.07,340.12 C263.96,340.24 263.96,340.24 266.85,340.35 C269.74,340.46 269.74,340.48 272.63,340.58 C275.51,340.68 275.51,340.69 278.40,340.75 C281.29,340.81 281.29,340.79 284.18,340.81 C287.06,340.82 287.06,340.81 289.95,340.81 C292.84,340.81 292.84,340.73 295.73,340.81 C298.62,340.88 298.62,340.88 301.50,341.10 C304.40,341.32 304.39,341.46 307.28,341.68 C310.16,341.90 310.17,341.90 313.06,341.97 C315.94,342.04 315.94,341.97 318.83,341.97 C321.72,341.97 321.72,341.95 324.61,341.97 C327.49,341.99 327.50,341.96 330.38,342.06 C333.27,342.16 333.27,342.20 336.16,342.38 C339.05,342.55 339.04,342.62 341.93,342.75 C344.82,342.89 344.82,342.79 347.71,342.90 C350.60,343.01 350.62,342.87 353.48,343.19 C356.39,343.52 356.37,343.72 359.26,344.21 C362.15,344.70 362.13,344.83 365.04,345.14 C367.91,345.45 367.93,345.19 370.81,345.45 C373.71,345.72 373.72,345.72 376.59,346.20 C379.49,346.68 379.46,346.87 382.36,347.38 C385.24,347.87 385.24,347.89 388.14,348.20 C391.02,348.51 391.03,348.42 393.91,348.60 C396.80,348.77 396.81,348.69 399.69,348.90 C402.58,349.11 402.58,349.19 405.47,349.43 C408.35,349.66 408.35,349.82 411.24,349.82 C414.13,349.83 414.15,349.79 417.02,349.45 C419.92,349.10 419.90,348.91 422.79,348.45 C425.67,347.99 425.67,347.96 428.57,347.62 C431.45,347.29 431.46,347.35 434.34,347.10 C437.23,346.85 437.23,346.89 440.12,346.63 C443.01,346.36 443.02,346.41 445.90,346.05 C448.79,345.69 448.78,345.62 451.67,345.20 C454.56,344.77 454.55,344.68 457.45,344.35 C460.32,344.02 460.34,344.11 463.22,343.88 C466.11,343.64 466.13,343.78 469.00,343.41 C471.91,343.03 471.90,342.97 474.77,342.37 C477.68,341.77 477.66,341.66 480.55,341.01 C483.43,340.36 483.43,340.36 486.33,339.76 C489.21,339.16 489.21,339.18 492.10,338.60 C494.99,338.01 494.99,337.99 497.88,337.43 C500.76,336.87 500.76,336.85 503.65,336.36 C506.53,335.86 506.54,335.88 509.43,335.46 C512.31,335.04 512.32,335.09 515.20,334.67 C518.10,334.25 518.10,334.27 520.98,333.77 C523.88,333.27 523.85,333.13 526.76,332.67 C529.63,332.20 529.64,332.24 532.53,331.91 C535.41,331.58 535.44,331.77 538.31,331.36 C541.21,330.94 541.21,330.85 544.08,330.25 C546.98,329.65 546.97,329.60 549.86,328.94 C552.75,328.29 552.76,328.36 555.63,327.64 C558.54,326.91 558.53,326.87 561.41,326.04 C564.31,325.20 564.30,325.17 567.19,324.29 C570.07,323.42 570.07,323.41 572.96,322.55 C575.85,321.69 575.86,321.74 578.74,320.86 C581.64,319.98 581.67,320.07 584.51,319.03 C587.45,317.96 587.46,317.96 590.29,316.65 C593.23,315.29 593.19,315.19 596.06,313.69 C598.96,312.18 598.93,312.11 601.84,310.63 C604.70,309.18 604.73,309.24 607.62,307.81 C610.51,306.39 610.50,306.36 613.39,304.93 C616.27,303.51 616.24,303.43 619.17,302.11 C622.01,300.83 622.03,300.86 624.94,299.73 C627.81,298.62 627.82,298.66 630.72,297.64 C633.60,296.62 633.61,296.65 636.49,295.66 C639.38,294.67 639.41,294.75 642.27,293.69 C645.19,292.60 645.18,292.58 648.05,291.36 C650.96,290.11 650.93,290.05 653.82,288.75 C656.71,287.44 656.71,287.44 659.60,286.13 C662.48,284.82 662.46,284.76 665.37,283.51 C668.23,282.29 668.21,282.21 671.15,281.19 C673.99,280.20 674.02,280.28 676.92,279.50 C679.79,278.74 679.83,278.88 682.70,278.11 C685.61,277.33 685.60,277.30 688.48,276.39 C691.38,275.48 691.34,275.37 694.25,274.47 C697.12,273.58 697.11,273.53 700.03,272.81 C702.89,272.12 702.91,272.20 705.80,271.65 C708.68,271.11 708.70,271.21 711.58,270.63 C714.48,270.05 714.50,270.09 717.35,269.33 C720.27,268.55 720.28,268.56 723.13,267.55 C726.06,266.52 726.04,266.46 728.91,265.25 C731.82,264.02 731.80,263.99 734.68,262.68 C737.58,261.35 737.55,261.27 740.46,259.98 C743.32,258.70 743.32,258.68 746.23,257.53 C749.09,256.39 749.12,256.46 752.01,255.40" fill="none" stroke="#006b73" stroke-width="2" stroke-opacity="0.7" stroke-linejoin="round"/>
<g font-size="12" fill="#6E7079"><text x="57" y="408.0" text-anchor="end">5.5</text><text x="57" y="359.0" text-anchor="end">6</text><text x="57" y="310.0" text-anchor="end">6.5</text><text x="57" y="260.0" text-anchor="end">7</text><text x="57" y="211.0" text-anchor="end">7.5</text><text x="57" y="162.0" text-anchor="end">8</text><text x="57" y="113.0" text-anchor="end">8.5</text><text x="57" y="63.0" text-anchor="end">9</text><text x="64.7" y="421.7" text-anchor="middle">20210923</text><text x="139.8" y="421.7" text-anchor="middle">20211019</text><text x="214.9" y="421.7" text-anchor="middle">20211105</text><text x="290.0" y="421.7" text-anchor="middle">20211124</text><text x="365.0" y="421.7" text-anchor="middle">20211213</text><text x="440.1" y="421.7" text-anchor="middle">20211230</text><text x="515.2" y="421.7" text-anchor="middle">20220119</text><text x="590.3" y="421.7" text-anchor="middle">20220214</text><text x="665.4" y="421.7" text-anchor="middle">20220303</text><text x="740.5" y="421.7" text-anchor="middle">20220322</text></g>
<g font-size="12"><line x1="264.8" y1="468.5" x2="289.6" y2="468.5" stroke="#3c0a91" stroke-width="2" stroke-opacity="0.75"/><circle cx="277.2" cy="468.3" r="5.3" fill="#fff" stroke="#3c0a91" stroke-width="1.8"/><text x="295.0" y="472.3" fill="#333">MA5</text><line x1="330.2" y1="468.5" x2="355.0" y2="468.5" stroke="#d9680f" stroke-width="2" stroke-opacity="0.75"/><circle cx="342.6" cy="468.3" r="5.3" fill="#fff" stroke="#d9680f" stroke-width="1.8"/><text x="360.6" y="472.3" fill="#333">MA10</text><line x1="402.8" y1="468.5" x2="427.6" y2="468.5" stroke="#c80a82" stroke-width="2" stroke-opacity="0.75"/><circle cx="415.2" cy="468.3" r="5.3" fill="#fff" stroke="#c80a82" stroke-width="1.8"/><text x="433.3" y="472.3" fill="#333">MA30</text><line x1="475.2" y1="468.5" x2="500.0" y2="468.5" stroke="#006b73" stroke-width="2" stroke-opacity="0.75"/><circle cx="487.4" cy="468.3" r="5.3" fill="#fff" stroke="#006b73" stroke-width="1.8"/><text x="505.0" y="472.3" fill="#333">MA60</text></g>
<path d="M2 4h1v1h-1zM7 4h1v1h-1zM17 4h1v1h-1zM25 4h1v1h-1zM30 4h1v1h-1zM2 5h1v1h-1zM8 5h1v1h-1zM17 5h1v1h-1zM21 5h1v1h-1zM25 5h1v1h-1zM30 5h4v1h-4zM35 5h5v1h-5zM42 5h13v1h-13zM2 6h1v1h-1zM5 6h8v1h-8zM17 6h1v1h-1zM21 6h1v1h-1zM25 6h1v1h-1zM29 6h1v1h-1zM32 6h1v1h-1zM36 6h1v1h-1zM39 6h1v1h-1zM47 6h1v1h-1zM0 7h5v1h-5zM17 7h1v1h-1zM21 7h1v1h-1zM25 7h1v1h-1zM28 7h6v1h-6zM35 7h1v1h-1zM39 7h1v1h-1zM46 7h1v1h-1zM2 8h1v1h-1zM7 8h4v1h-4zM15 8h1v1h-1zM17 8h2v1h-2zM21 8h1v1h-1zM23 8h1v1h-1zM25 8h1v1h-1zM29 8h1v1h-1zM31 8h1v1h-1zM33 8h2v1h-2zM37 8h2v1h-2zM44 8h9v1h-9zM1 9h3v1h-3zM7 9h1v1h-1zM10 9h1v1h-1zM15 9h1v1h-1zM17 9h1v1h-1zM19 9h1v1h-1zM21 9h1v1h-1zM24 9h2v1h-2zM29 9h5v1h-5zM44 9h1v1h-1zM52 9h1v1h-1zM1 10h2v1h-2zM4 10h1v1h-1zM7 10h1v1h-1zM10 10h1v1h-1zM14 10h1v1h-1zM17 10h1v1h-1zM21 10h1v1h-1zM25 10h1v1h-1zM29 10h1v1h-1zM31 10h1v1h-1zM33 10h1v1h-1zM35 10h1v1h-1zM37 10h1v1h-1zM44 10h1v1h-1zM52 10h1v1h-1zM0 11h1v1h-1zM2 11h1v1h-1zM7 11h1v1h-1zM10 11h1v1h-1zM17 11h1v1h-1zM21 11h1v1h-1zM25 11h1v1h-1zM29 11h1v1h-1zM31 11h1v1h-1zM33 11h1v1h-1zM35 11h5v1h-5zM44 11h9v1h-9zM0 12h1v1h-1zM2 12h1v1h-1zM7 12h1v1h-1zM10 12h1v1h-1zM17 12h1v1h-1zM21 12h1v1h-1zM25 12h1v1h-1zM29 12h6v1h-6zM37 12h1v1h-1zM44 12h1v1h-1zM52 12h1v1h-1zM2 13h1v1h-1zM7 13h1v1h-1zM10 13h1v1h-1zM16 13h1v1h-1zM21 13h1v1h-1zM25 13h1v1h-1zM29 13h1v1h-1zM31 13h1v1h-1zM33 13h1v1h-1zM37 13h1v1h-1zM44 13h1v1h-1zM52 13h1v1h-1zM2 14h1v1h-1zM6 14h1v1h-1zM10 14h1v1h-1zM12 14h1v1h-1zM16 14h1v1h-1zM21 14h1v1h-1zM25 14h1v1h-1zM29 14h1v1h-1zM31 14h1v1h-1zM33 14h8v1h-8zM44 14h1v1h-1zM52 14h1v1h-1zM2 15h1v1h-1zM6 15h1v1h-1zM10 15h1v1h-1zM12 15h1v1h-1zM15 15h1v1h-1zM25 15h1v1h-1zM28 15h1v1h-1zM31 15h1v1h-1zM33 15h1v1h-1zM37 15h1v1h-1zM44 15h9v1h-9zM2 16h1v1h-1zM5 16h1v1h-1zM11 16h2v1h-2zM14 16h1v1h-1zM25 16h1v1h-1zM28 16h1v1h-1zM32 16h2v1h-2zM37 16h1v1h-1zM44 16h1v1h-1zM52 16h1v1h-1zM142 4h9v1h-9zM142 5h1v1h-1zM150 5h1v1h-1zM142 6h1v1h-1zM150 6h1v1h-1zM142 7h1v1h-1zM150 7h1v1h-1zM142 8h1v1h-1zM150 8h1v1h-1zM142 9h9v1h-9zM142 10h1v1h-1zM150 10h1v1h-1zM142 11h1v1h-1zM150 11h1v1h-1zM142 12h1v1h-1zM150 12h1v1h-1zM142 13h1v1h-1zM150 13h1v1h-1zM142 14h9v1h-9zM142 15h1v1h-1zM150 15h1v1h-1zM682 4h1v1h-1zM689 4h2v1h-2zM703 4h1v1h-1zM708 4h1v1h-1zM711 4h8v1h-8zM665 5h13v1h-13zM679 5h10v1h-10zM694 5h4v1h-4zM703 5h1v1h-1zM709 5h1v1h-1zM718 5h1v1h-1zM672 6h1v1h-1zM680 6h1v1h-1zM684 6h1v1h-1zM686 6h1v1h-1zM694 6h1v1h-1zM697 6h1v1h-1zM703 6h1v1h-1zM708 6h1v1h-1zM718 6h1v1h-1zM667 7h9v1h-9zM681 7h1v1h-1zM683 7h1v1h-1zM686 7h1v1h-1zM694 7h1v1h-1zM697 7h9v1h-9zM708 7h1v1h-1zM711 7h5v1h-5zM718 7h1v1h-1zM667 8h1v1h-1zM672 8h1v1h-1zM675 8h1v1h-1zM679 8h13v1h-13zM694 8h1v1h-1zM697 8h1v1h-1zM703 8h1v1h-1zM708 8h1v1h-1zM711 8h1v1h-1zM715 8h1v1h-1zM718 8h1v1h-1zM667 9h9v1h-9zM682 9h1v1h-1zM686 9h1v1h-1zM689 9h1v1h-1zM694 9h4v1h-4zM699 9h1v1h-1zM703 9h1v1h-1zM708 9h1v1h-1zM711 9h1v1h-1zM715 9h1v1h-1zM718 9h1v1h-1zM667 10h1v1h-1zM672 10h1v1h-1zM675 10h1v1h-1zM680 10h5v1h-5zM686 10h1v1h-1zM689 10h1v1h-1zM694 10h1v1h-1zM697 10h1v1h-1zM700 10h1v1h-1zM703 10h1v1h-1zM708 10h1v1h-1zM711 10h5v1h-5zM718 10h1v1h-1zM667 11h9v1h-9zM682 11h1v1h-1zM686 11h1v1h-1zM689 11h1v1h-1zM694 11h1v1h-1zM697 11h1v1h-1zM700 11h1v1h-1zM703 11h1v1h-1zM708 11h1v1h-1zM711 11h1v1h-1zM715 11h1v1h-1zM718 11h1v1h-1zM668 12h1v1h-1zM672 12h1v1h-1zM680 12h1v1h-1zM682 12h1v1h-1zM684 12h1v1h-1zM686 12h1v1h-1zM689 12h1v1h-1zM694 12h1v1h-1zM697 12h1v1h-1zM703 12h1v1h-1zM708 12h1v1h-1zM711 12h1v1h-1zM715 12h1v1h-1zM718 12h1v1h-1zM669 13h1v1h-1zM671 13h1v1h-1zM680 13h1v1h-1zM682 13h1v1h-1zM685 13h2v1h-2zM689 13h1v1h-1zM694 13h4v1h-4zM703 13h1v1h-1zM708 13h1v1h-1zM711 13h5v1h-5zM718 13h1v1h-1zM670 14h1v1h-1zM679 14h1v1h-1zM682 14h1v1h-1zM686 14h1v1h-1zM689 14h1v1h-1zM694 14h1v1h-1zM697 14h1v1h-1zM703 14h1v1h-1zM708 14h1v1h-1zM718 14h1v1h-1zM669 15h1v1h-1zM671 15h2v1h-2zM682 15h1v1h-1zM685 15h1v1h-1zM689 15h1v1h-1zM701 15h1v1h-1zM703 15h1v1h-1zM708 15h1v1h-1zM716 15h1v1h-1zM718 15h1v1h-1zM665 16h4v1h-4zM673 16h5v1h-5zM681 16h2v1h-2zM684 16h1v1h-1zM689 16h1v1h-1zM702 16h1v1h-1zM708 16h1v1h-1zM717 16h1v1h-1z" fill="#262626"/>
<path d="M335 499h1v1h-1zM338 499h1v1h-1zM341 499h1v1h-1zM343 499h1v1h-1zM351 499h1v1h-1zM369 499h1v1h-1zM378 499h1v1h-1zM336 500h1v1h-1zM338 500h1v1h-1zM340 500h1v1h-1zM343 500h1v1h-1zM351 500h1v1h-1zM354 500h7v1h-7zM369 500h1v1h-1zM379 500h1v1h-1zM381 500h9v1h-9zM335 501h7v1h-7zM343 501h5v1h-5zM349 501h6v1h-6zM360 501h1v1h-1zM364 501h11v1h-11zM381 501h1v1h-1zM385 501h1v1h-1zM337 502h3v1h-3zM342 502h1v1h-1zM346 502h1v1h-1zM351 502h1v1h-1zM354 502h7v1h-7zM369 502h1v1h-1zM377 502h1v1h-1zM381 502h1v1h-1zM383 502h6v1h-6zM336 503h1v1h-1zM338 503h1v1h-1zM340 503h1v1h-1zM342 503h1v1h-1zM346 503h1v1h-1zM351 503h1v1h-1zM354 503h1v1h-1zM358 503h1v1h-1zM366 503h1v1h-1zM369 503h1v1h-1zM372 503h1v1h-1zM378 503h1v1h-1zM381 503h1v1h-1zM383 503h1v1h-1zM388 503h1v1h-1zM335 504h1v1h-1zM338 504h1v1h-1zM341 504h1v1h-1zM343 504h1v1h-1zM346 504h1v1h-1zM351 504h1v1h-1zM353 504h9v1h-9zM367 504h1v1h-1zM369 504h1v1h-1zM371 504h1v1h-1zM380 504h2v1h-2zM383 504h6v1h-6zM337 505h1v1h-1zM343 505h1v1h-1zM345 505h1v1h-1zM351 505h2v1h-2zM354 505h1v1h-1zM358 505h1v1h-1zM363 505h13v1h-13zM379 505h1v1h-1zM381 505h1v1h-1zM383 505h1v1h-1zM388 505h1v1h-1zM335 506h7v1h-7zM343 506h1v1h-1zM345 506h1v1h-1zM349 506h3v1h-3zM354 506h1v1h-1zM358 506h1v1h-1zM368 506h3v1h-3zM379 506h1v1h-1zM381 506h1v1h-1zM383 506h6v1h-6zM337 507h1v1h-1zM340 507h1v1h-1zM344 507h1v1h-1zM351 507h1v1h-1zM354 507h1v1h-1zM356 507h5v1h-5zM367 507h1v1h-1zM369 507h1v1h-1zM371 507h1v1h-1zM377 507h2v1h-2zM381 507h1v1h-1zM386 507h1v1h-1zM336 508h2v1h-2zM339 508h1v1h-1zM344 508h1v1h-1zM351 508h1v1h-1zM354 508h1v1h-1zM356 508h1v1h-1zM360 508h1v1h-1zM366 508h1v1h-1zM369 508h1v1h-1zM372 508h1v1h-1zM378 508h1v1h-1zM381 508h1v1h-1zM383 508h1v1h-1zM386 508h1v1h-1zM388 508h1v1h-1zM338 509h1v1h-1zM343 509h1v1h-1zM345 509h1v1h-1zM351 509h1v1h-1zM353 509h1v1h-1zM356 509h1v1h-1zM360 509h1v1h-1zM365 509h1v1h-1zM369 509h1v1h-1zM373 509h1v1h-1zM378 509h1v1h-1zM380 509h1v1h-1zM383 509h1v1h-1zM386 509h1v1h-1zM389 509h1v1h-1zM337 510h1v1h-1zM339 510h1v1h-1zM342 510h1v1h-1zM346 510h1v1h-1zM349 510h1v1h-1zM351 510h1v1h-1zM353 510h1v1h-1zM356 510h5v1h-5zM363 510h2v1h-2zM369 510h1v1h-1zM374 510h2v1h-2zM378 510h1v1h-1zM380 510h1v1h-1zM382 510h1v1h-1zM384 510h1v1h-1zM386 510h1v1h-1zM389 510h1v1h-1zM335 511h2v1h-2zM340 511h2v1h-2zM347 511h1v1h-1zM350 511h1v1h-1zM352 511h1v1h-1zM356 511h1v1h-1zM360 511h1v1h-1zM369 511h1v1h-1zM378 511h2v1h-2zM385 511h1v1h-1zM392 506h2v2h-2zM392 509h2v2h-2zM411 499h1v1h-1zM429 499h1v1h-1zM452 499h1v1h-1zM411 500h1v1h-1zM414 500h8v1h-8zM425 500h1v1h-1zM429 500h1v1h-1zM437 500h12v1h-12zM453 500h1v1h-1zM455 500h9v1h-9zM411 501h1v1h-1zM425 501h1v1h-1zM429 501h1v1h-1zM438 501h1v1h-1zM442 501h1v1h-1zM445 501h1v1h-1zM447 501h1v1h-1zM455 501h1v1h-1zM459 501h1v1h-1zM409 502h1v1h-1zM411 502h2v1h-2zM415 502h6v1h-6zM425 502h10v1h-10zM438 502h5v1h-5zM446 502h1v1h-1zM451 502h1v1h-1zM455 502h1v1h-1zM457 502h6v1h-6zM409 503h1v1h-1zM411 503h1v1h-1zM413 503h1v1h-1zM415 503h1v1h-1zM420 503h1v1h-1zM424 503h1v1h-1zM429 503h1v1h-1zM438 503h1v1h-1zM442 503h1v1h-1zM445 503h1v1h-1zM447 503h1v1h-1zM452 503h1v1h-1zM455 503h1v1h-1zM457 503h1v1h-1zM462 503h1v1h-1zM409 504h1v1h-1zM411 504h1v1h-1zM415 504h1v1h-1zM420 504h1v1h-1zM423 504h1v1h-1zM429 504h1v1h-1zM437 504h8v1h-8zM448 504h2v1h-2zM454 504h2v1h-2zM457 504h6v1h-6zM409 505h1v1h-1zM411 505h1v1h-1zM415 505h6v1h-6zM429 505h1v1h-1zM442 505h1v1h-1zM445 505h3v1h-3zM453 505h1v1h-1zM455 505h1v1h-1zM457 505h1v1h-1zM462 505h1v1h-1zM411 506h1v1h-1zM415 506h1v1h-1zM420 506h1v1h-1zM425 506h9v1h-9zM438 506h7v1h-7zM453 506h1v1h-1zM455 506h1v1h-1zM457 506h6v1h-6zM411 507h1v1h-1zM415 507h1v1h-1zM420 507h1v1h-1zM429 507h1v1h-1zM441 507h1v1h-1zM443 507h1v1h-1zM447 507h2v1h-2zM451 507h2v1h-2zM455 507h1v1h-1zM460 507h1v1h-1zM411 508h1v1h-1zM415 508h6v1h-6zM429 508h1v1h-1zM440 508h1v1h-1zM442 508h3v1h-3zM446 508h1v1h-1zM452 508h1v1h-1zM455 508h1v1h-1zM457 508h1v1h-1zM460 508h1v1h-1zM462 508h1v1h-1zM411 509h1v1h-1zM415 509h1v1h-1zM420 509h1v1h-1zM429 509h1v1h-1zM437 509h3v1h-3zM441 509h1v1h-1zM443 509h1v1h-1zM445 509h1v1h-1zM452 509h1v1h-1zM454 509h1v1h-1zM457 509h1v1h-1zM460 509h1v1h-1zM463 509h1v1h-1zM411 510h1v1h-1zM429 510h1v1h-1zM440 510h1v1h-1zM443 510h1v1h-1zM446 510h2v1h-2zM452 510h1v1h-1zM454 510h1v1h-1zM456 510h1v1h-1zM458 510h1v1h-1zM460 510h1v1h-1zM463 510h1v1h-1zM411 511h1v1h-1zM414 511h8v1h-8zM423 511h13v1h-13zM437 511h3v1h-3zM443 511h1v1h-1zM448 511h2v1h-2zM452 511h2v1h-2zM459 511h1v1h-1z" fill="#666"/>
<g font-size="14" fill="#333">
<text x="60" y="16">600814</text>
<text x="153.5" y="16">K</text>
<text x="800" y="16" text-anchor="end">: 2022-03-24</text>
</g>
<rect x="123" y="5" width="1" height="12" fill="#e5e5e5"/>
</svg>
</body></html>
